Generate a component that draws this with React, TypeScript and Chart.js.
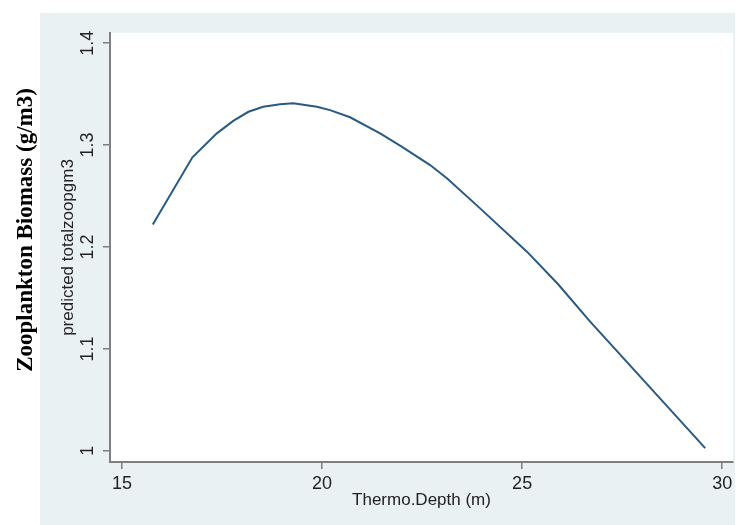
import React, { useEffect, useRef } from "react";
import { Chart, registerables } from "chart.js";

Chart.register(...registerables);

const depth = [15.77, 16.76, 17.37, 17.78, 18.16, 18.53, 18.95, 19.28, 19.87, 20.2, 20.7, 21.45, 22.0, 22.7, 23.12, 23.95, 25.12, 25.9, 26.7, 27.9, 29.575];
const predicted = [1.222, 1.288, 1.3115, 1.3238, 1.3327, 1.3376, 1.34, 1.341, 1.3376, 1.3343, 1.3273, 1.3115, 1.2983, 1.2804, 1.2674, 1.2379, 1.1954, 1.1634, 1.1268, 1.075, 1.0026];
const xTicks = [15, 20, 25, 30];
const yTicks = [1, 1.1, 1.2, 1.3, 1.4];
const xTitle = "Thermo.Depth (m)";
const yTitle = "predicted totalzoopgm3";
const outerTitle = "Zooplankton Biomass (g/m3)";

const SANS = "'Liberation Sans', Arial, sans-serif";
const SERIF = "'Liberation Serif', 'Times New Roman', serif";
const AXIS_COLOR = "#7f7f7f";
const PANEL = "#eaf1f3";

const fmt = (v: number) => String(Number(v.toFixed(1)));

const decorPlugin = {
  id: "decor",
  beforeDraw(chart: any) {
    const { ctx, chartArea, width, height } = chart;
    ctx.save();
    ctx.fillStyle = "#ffffff";
    ctx.fillRect(0, 0, width, height);
    ctx.fillStyle = PANEL;
    ctx.fillRect(40, 13, 695, height - 13);
    ctx.fillStyle = "#ffffff";
    ctx.fillRect(chartArea.left, chartArea.top, chartArea.right - chartArea.left, chartArea.bottom - chartArea.top);
    ctx.restore();
  },
  afterDraw(chart: any) {
    const { ctx } = chart;
    const yScale = chart.scales.y;
    ctx.save();
    ctx.fillStyle = "#222222";
    ctx.font = `18px ${SANS}`;
    ctx.textAlign = "center";
    ctx.textBaseline = "middle";
    for (const t of yScale.ticks) {
      const py = yScale.getPixelForValue(t.value);
      ctx.save();
      ctx.translate(88, py);
      ctx.rotate(-Math.PI / 2);
      ctx.fillText(fmt(t.value), 0, 0);
      ctx.restore();
    }
    ctx.fillStyle = "#000000";
    ctx.font = `bold 23px ${SERIF}`;
    ctx.textAlign = "center";
    ctx.textBaseline = "alphabetic";
    ctx.translate(32, 230);
    ctx.rotate(-Math.PI / 2);
    ctx.fillText(outerTitle, 0, 0);
    ctx.restore();
  },
};

export default function App() {
  const ref = useRef<HTMLCanvasElement | null>(null);
  useEffect(() => {
    if (!ref.current) return;
    const chart = new Chart(ref.current, {
      type: "line",
      data: {
        datasets: [
          {
            label: "predicted",
            data: depth.map((d, i) => ({ x: d, y: predicted[i] })),
            borderColor: "#2a5a82",
            borderWidth: 2,
            pointRadius: 0,
            tension: 0,
            fill: false,
          },
        ],
      },
      options: {
        responsive: false,
        animation: false,
        devicePixelRatio: 1,
        layout: { padding: { left: 0, top: 33, right: 12, bottom: 0 } },
        plugins: { legend: { display: false }, tooltip: { enabled: false }, title: { display: false } },
        scales: {
          x: {
            type: "linear",
            min: 14.7,
            max: 30.27,
            afterBuildTicks: (s: any) => {
              s.ticks = xTicks.map((v) => ({ value: v }));
            },
            afterFit: (s: any) => {
              s.height = 63;
            },
            border: { display: true, color: AXIS_COLOR, width: 2 },
            grid: { drawOnChartArea: false, drawTicks: true, tickLength: 7, color: AXIS_COLOR, lineWidth: 1.5 },
            ticks: {
              color: "#222222",
              font: { size: 18, family: SANS },
              padding: 4,
              maxRotation: 0,
              callback: (v: any) => fmt(Number(v)),
            },
            title: {
              display: true,
              text: xTitle,
              color: "#222222",
              font: { size: 17, family: SANS },
              padding: { top: 0, bottom: 14 },
            },
          },
          y: {
            type: "linear",
            min: 0.989,
            max: 1.41,
            afterBuildTicks: (s: any) => {
              s.ticks = yTicks.map((v) => ({ value: v }));
            },
            afterFit: (s: any) => {
              s.width = 110;
            },
            border: { display: true, color: AXIS_COLOR, width: 2 },
            grid: { drawOnChartArea: false, drawTicks: true, tickLength: 7, color: AXIS_COLOR, lineWidth: 1.5 },
            ticks: { display: false },
            title: {
              display: true,
              text: yTitle,
              color: "#222222",
              font: { size: 17, family: SANS },
              padding: { top: 58, bottom: 0 },
            },
          },
        },
      },
      plugins: [decorPlugin],
    });
    return () => chart.destroy();
  }, []);
  return (
    <div style={{ position: "absolute", left: 0, top: 0, width: 745, height: 525 }}>
      <canvas ref={ref} width={745} height={525} style={{ display: "block" }} />
    </div>
  );
}
